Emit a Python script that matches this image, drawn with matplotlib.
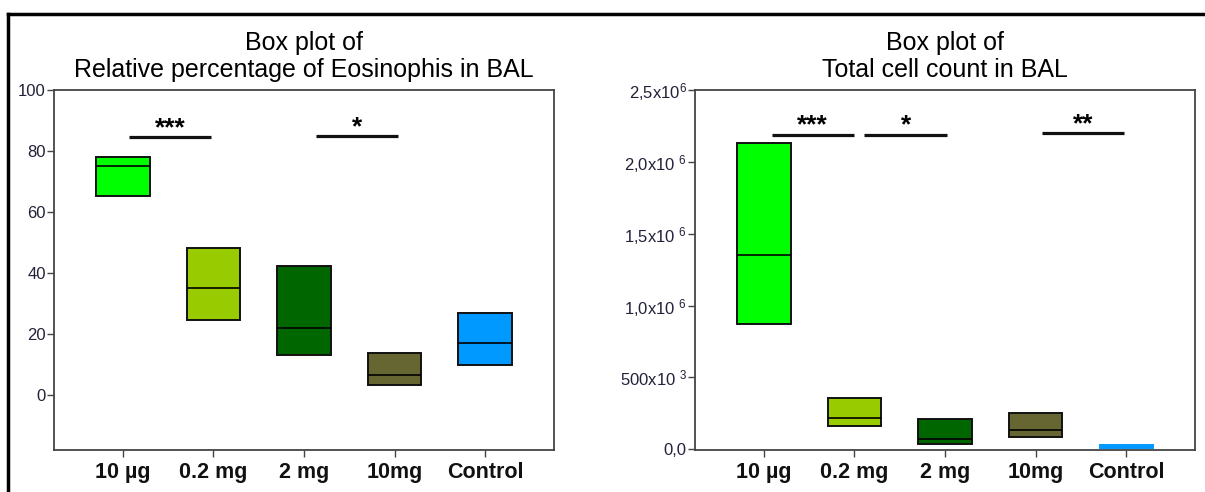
import matplotlib
matplotlib.use("Agg")
import matplotlib.pyplot as plt
from matplotlib.lines import Line2D

plt.rcParams['font.family'] = ['Liberation Sans', 'DejaVu Sans']
plt.rcParams['mathtext.fontset'] = 'custom'
plt.rcParams['mathtext.rm'] = 'Liberation Sans'
plt.rcParams['mathtext.it'] = 'Liberation Sans:italic'
plt.rcParams['mathtext.bf'] = 'Liberation Sans:bold'

groups = ["10 µg", "0.2 mg", "2 mg", "10mg", "Control"]
colors = ["#00ff00", "#99cc00", "#006600", "#666633", "#0099ff"]

# eosinophils (%) : q1, median, q3
eos_q1 = [65.3, 24.6, 13.0, 3.4, 9.9]
eos_med = [75.0, 35.0, 22.0, 6.6, 17.0]
eos_q3 = [78.0, 48.2, 42.3, 13.8, 26.9]

# total cell count
cell_q1 = [0.875e6, 0.16e6, 0.035e6, 0.085e6, 0.012e6]
cell_med = [1.35e6, 0.22e6, 0.07e6, 0.135e6, 0.02e6]
cell_q3 = [2.13e6, 0.355e6, 0.21e6, 0.25e6, 0.03e6]

# significance bars: (x start, x end, y, label)
eos_sig = [(1.07, 1.97, 84.6, "***"), (3.13, 4.04, 84.8, "*")]
cell_sig = [(1.09, 1.99, 2.19e6, "***"), (2.11, 3.02, 2.19e6, "*"),
            (4.07, 4.97, 2.2e6, "**")]

cell_ticks = [0, 0.5e6, 1.0e6, 1.5e6, 2.0e6, 2.5e6]
cell_ticklabels = ["0,0", "500x10 $^{3}$", "1,0x10 $^{6}$", "1,5x10 $^{6}$",
                   "2,0x10 $^{6}$", "2,5x10$^{6}$"]

fig = plt.figure(figsize=(12.05, 4.92), dpi=100)
ax1 = fig.add_axes([0.0448, 0.0854, 0.415, 0.7317])
ax2 = fig.add_axes([0.5768, 0.0854, 0.415, 0.7317])

# outer frame lines (top and left)
fig.add_artist(Line2D([8 / 1205, 1.0], [1 - 14 / 492, 1 - 14 / 492], color="black", lw=2.5,
                      transform=fig.transFigure))
fig.add_artist(Line2D([8 / 1205, 8 / 1205], [0.0, 1 - 14 / 492], color="black", lw=2.5,
                      transform=fig.transFigure))


def draw_panel(ax, q1, med, q3, sig, title):
    stats = []
    for i in range(len(groups)):
        stats.append(dict(q1=q1[i], med=med[i], q3=q3[i], whislo=q1[i], whishi=q3[i],
                          fliers=[], label=groups[i]))
    bp = ax.bxp(stats, positions=[1, 2, 3, 4, 5], widths=0.59, patch_artist=True,
                showcaps=False, showfliers=False,
                medianprops=dict(color="black", lw=1.2),
                whiskerprops=dict(lw=0))
    for i, box in enumerate(bp["boxes"]):
        box.set_facecolor(colors[i])
        box.set_edgecolor("#111111")
        box.set_linewidth(1.4)
    for x0, x1, y, lab in sig:
        ax.plot([x0, x1], [y, y], color="#111111", lw=2.3, solid_capstyle="butt")
    ax.set_xlim(0.24, 5.76)
    ax.set_title(title, fontsize=18, pad=9, linespacing=1.2)
    for s in ax.spines.values():
        s.set_color("#444444")
        s.set_linewidth(1.3)
    ax.tick_params(axis="both", direction="out", length=5, width=1, color="#444444")
    ax.tick_params(axis="y", labelsize=12, labelcolor="#22223a", pad=1)
    ax.set_xticks([1, 2, 3, 4, 5])
    ax.set_xticklabels(groups, fontsize=15.5, fontweight="bold", color="#111111")
    ax.tick_params(axis="x", pad=4)
    return bp


draw_panel(ax1, eos_q1, eos_med, eos_q3, eos_sig,
           "Box plot of\nRelative percentage of Eosinophis in BAL")
ax1.set_ylim(-18, 100)
ax1.set_yticks([0, 20, 40, 60, 80, 100])
for x0, x1, y, lab in eos_sig:
    ax1.text((x0 + x1) / 2, y - 1.0, lab, ha="center", va="bottom", fontsize=19,
             fontweight="bold")

bp2 = draw_panel(ax2, cell_q1, cell_med, cell_q3, cell_sig,
                 "Box plot of\nTotal cell count in BAL")
# control box has no dark outline
bp2["boxes"][4].set_edgecolor(colors[4])
bp2["medians"][4].set_color(colors[4])
ax2.set_ylim(-0.005e6, 2.5e6)
ax2.set_yticks(cell_ticks)
ax2.set_yticklabels(cell_ticklabels)
for x0, x1, y, lab in cell_sig:
    ax2.text((x0 + x1) / 2, y - 0.02e6, lab, ha="center", va="bottom", fontsize=19,
             fontweight="bold")

fig.savefig("out.png", dpi=100)
